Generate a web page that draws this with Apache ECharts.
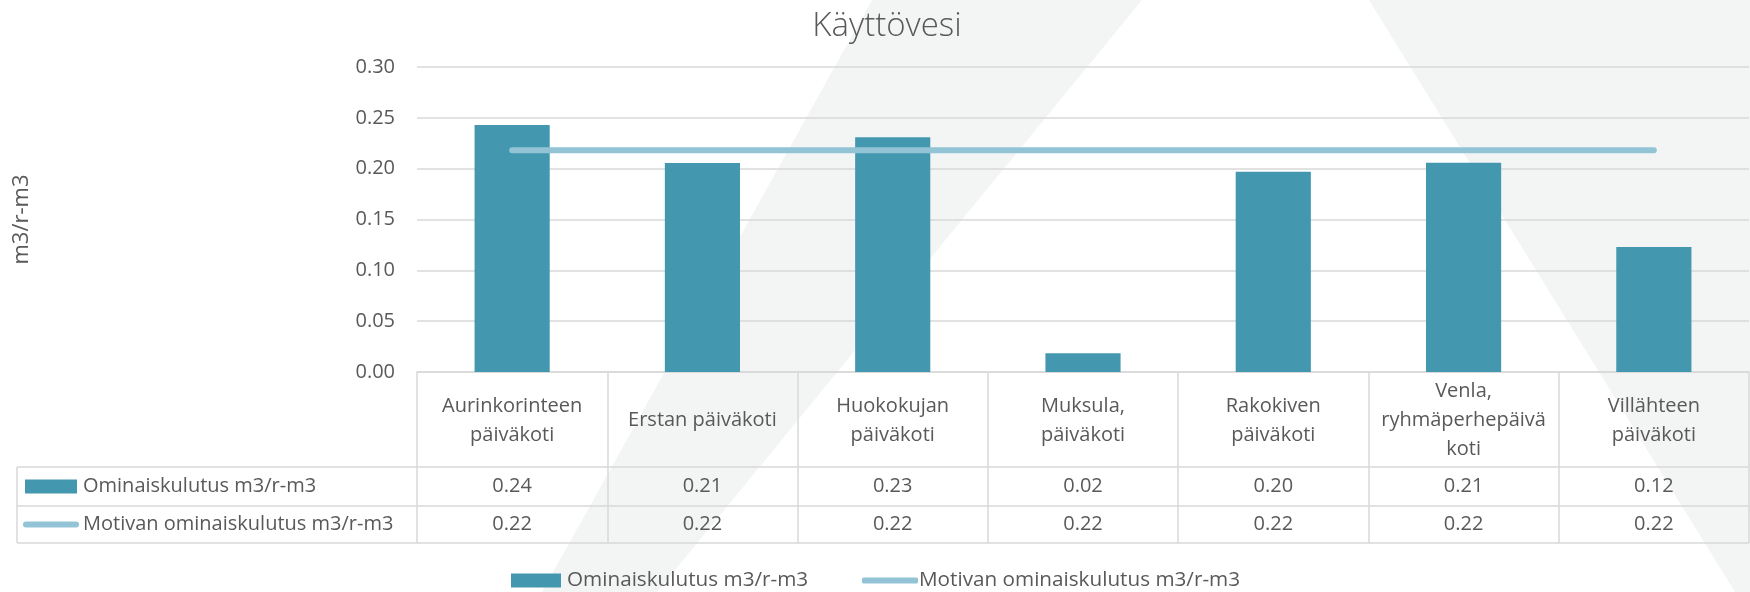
<!DOCTYPE html>
<html>
<head>
<meta charset="utf-8">
<script src="https://cdn.jsdelivr.net/npm/echarts@6/dist/echarts.min.js"></script>
<style>
html,body{margin:0;padding:0;background:#fff;}
#chart{width:1750px;height:592px;}
</style>
</head>
<body>
<div id="chart"></div>
<script>
// ---- data ----
const chartTitle = 'Käyttövesi';
const yAxisName = 'm3/r-m3';
const categories = ['Aurinkorinteen päiväkoti', 'Erstan päiväkoti', 'Huokokujan päiväkoti', 'Muksula, päiväkoti', 'Rakokiven päiväkoti', 'Venla, ryhmäperhepäiväkoti', 'Villähteen päiväkoti'];
const categoryLabels = ['Aurinkorinteen\npäiväkoti', 'Erstan päiväkoti', 'Huokokujan\npäiväkoti', 'Muksula,\npäiväkoti', 'Rakokiven\npäiväkoti', 'Venla,\nryhmäperhepäivä\nkoti', 'Villähteen\npäiväkoti'];
const seriesNames = ['Ominaiskulutus m3/r-m3', 'Motivan ominaiskulutus m3/r-m3'];
const ominaiskulutus = [0.243, 0.2055, 0.231, 0.0184, 0.197, 0.2058, 0.123];
const motiva = [0.218, 0.218, 0.218, 0.218, 0.218, 0.218, 0.218];
const yMin = 0, yMax = 0.30, yStep = 0.05;

// ---- styling / layout ----
const FONT = 'Open Sans';
const TEXT = '#595959';
const GRIDC = '#d9d9d9';
const BAR = '#4398b0';
const LINE = '#92c4d5';
const WM = '#f3f4f4';
const W = 1750, H = 592;
const G = {left: 417, right: 1, top: 67, bottom: 220};
const axisY = H - G.bottom;            // 372
const rowLines = [467, 506, 543];
const tableLeft = 17;
const gridRight = W - G.right;

const chart = echarts.init(document.getElementById('chart'), null, {renderer: 'canvas'});

const txt = (extra) => Object.assign({fontFamily: FONT, fontSize: 20, color: TEXT}, extra || {});

const graphics = [
  // watermark
  {type: 'polygon', z: -10, silent: true, shape: {points: [[872, 0], [W, 0], [W, H], [542, H]]}, style: {fill: WM}},
  {type: 'polygon', z: -9, silent: true, shape: {points: [[1142, 0], [1369, 0], [1735, H], [657, H]]}, style: {fill: '#ffffff'}},
];
rowLines.forEach(y => graphics.push({type: 'line', z: 5, silent: true, shape: {x1: tableLeft, y1: y, x2: gridRight, y2: y}, style: {stroke: GRIDC, lineWidth: 1.5}}));
graphics.push({type: 'line', z: 5, silent: true, shape: {x1: tableLeft, y1: rowLines[0], x2: tableLeft, y2: rowLines[2]}, style: {stroke: GRIDC, lineWidth: 1.5}});
const r1 = (rowLines[0] + rowLines[1]) / 2, r2 = (rowLines[1] + rowLines[2]) / 2;
graphics.push({type: 'rect', z: 6, silent: true, shape: {x: 25, y: r1 - 7, width: 52, height: 14}, style: {fill: BAR}});
graphics.push({type: 'text', z: 6, silent: true, x: 83, y: r1, style: {text: seriesNames[0], font: '20px "Open Sans"', fill: TEXT, verticalAlign: 'middle', align: 'left'}});
graphics.push({type: 'line', z: 6, silent: true, shape: {x1: 26, y1: r2, x2: 76, y2: r2}, style: {stroke: LINE, lineWidth: 6, lineCap: 'round'}});
graphics.push({type: 'text', z: 6, silent: true, x: 83, y: r2, style: {text: seriesNames[1], font: '20px "Open Sans"', fill: TEXT, verticalAlign: 'middle', align: 'left'}});

const valueAxis = (arr, margin) => ({
  type: 'category', data: categories, position: 'bottom', gridIndex: 0,
  axisLine: {show: false}, axisTick: {show: false}, splitLine: {show: false},
  axisLabel: Object.assign(txt(), {interval: 0, margin: margin, verticalAlign: 'middle', formatter: (v, i) => arr[i].toFixed(2)})
});

const option = {
  backgroundColor: '#ffffff',
  animation: false,
  title: {
    text: chartTitle, left: 882, top: 5, textAlign: 'center',
    textStyle: {fontFamily: FONT, fontSize: 33, fontWeight: 300, color: TEXT}
  },
  grid: {left: G.left, right: G.right, top: G.top, bottom: G.bottom, containLabel: false},
  legend: [
    {left: 511, top: 570, itemWidth: 50, itemHeight: 14, itemGap: 0, padding: 0,
     data: [{name: seriesNames[0], icon: 'rect'}], textStyle: txt({fontSize: 20.7, padding: [0, 0, 0, 1]})},
    {left: 862, top: 570, itemWidth: 56, itemHeight: 6, itemGap: 0, padding: 0,
     data: [{name: seriesNames[1], icon: 'roundRect'}], textStyle: txt({fontSize: 20.7, padding: [0, 0, 0, -4]})}
  ],
  xAxis: [
    {
      type: 'category', data: categories, position: 'bottom',
      axisLine: {show: true, lineStyle: {color: GRIDC, width: 1.5}},
      axisTick: {show: true, interval: 0, length: rowLines[2] - axisY, lineStyle: {color: GRIDC, width: 1.5}},
      axisLabel: Object.assign(txt(), {interval: 0, margin: (axisY + rowLines[0]) / 2 - axisY + 1, verticalAlign: 'middle', lineHeight: 29, align: 'center',
        formatter: (v, i) => categoryLabels[i]}),
      splitLine: {show: false}
    },
    valueAxis(ominaiskulutus, r1 - axisY),
    valueAxis(motiva, r2 - axisY)
  ],
  yAxis: {
    type: 'value', min: yMin, max: yMax, interval: yStep,
    name: yAxisName, nameLocation: 'middle', nameGap: 384,
    nameTextStyle: txt({fontSize: 22}),
    axisLine: {show: false}, axisTick: {show: false},
    axisLabel: Object.assign(txt(), {margin: 22, formatter: v => v.toFixed(2)}),
    splitLine: {lineStyle: {color: GRIDC, width: 1.5}}
  },
  graphic: graphics,
  series: [
    {
      name: seriesNames[0], type: 'bar', xAxisIndex: 0, data: ominaiskulutus,
      barWidth: '39.5%', itemStyle: {color: BAR}, z: 2
    },
    {
      name: seriesNames[1], type: 'line', xAxisIndex: 0, data: motiva,
      symbol: 'none', itemStyle: {color: LINE},
      lineStyle: {color: LINE, width: 6, cap: 'round'}, z: 3
    }
  ]
};
chart.setOption(option);
</script>
</body>
</html>
